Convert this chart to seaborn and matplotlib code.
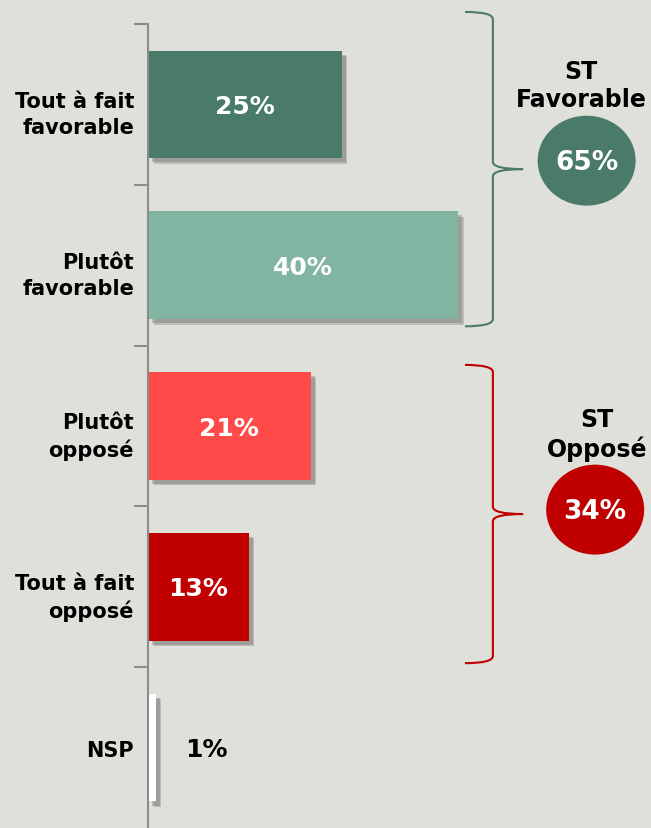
import matplotlib
matplotlib.use("Agg")
import matplotlib.pyplot as plt
import matplotlib.patheffects as pe
import matplotlib.transforms as mtrans
from matplotlib.patches import Ellipse, PathPatch
from matplotlib.path import Path
import seaborn as sns

# data
categories = ["Tout à fait\nfavorable", "Plutôt\nfavorable", "Plutôt\nopposé",
              "Tout à fait\nopposé", "NSP"]
values = [25, 40, 21, 13, 1]
bar_colors = ["#4a7a6a", "#82b4a2", "#ff4a4a", "#c00000", "#ffffff"]
group_names = ["ST\nFavorable", "ST\nOpposé"]
group_members = [[0, 1], [2, 3]]
group_colors = ["#4a7a6a", "#c00000"]

bg = "#e0e0da"
sns.set_style("white")
plt.rcParams["font.family"] = ["DejaVu Sans"]

fig = plt.figure(figsize=(6.51, 8.29), dpi=100, facecolor=bg)
ax = fig.add_axes([148 / 651, 0, 1 - 148 / 651, 804 / 829])
ax.set_facecolor(bg)

sns.barplot(x=values, y=categories, hue=categories, palette=bar_colors,
            legend=False, orient="h", width=0.67, saturation=1, linewidth=0, ax=ax)

# soft drop shadow under each bar
shadow = [pe.SimplePatchShadow(offset=(4, -4), shadow_rgbFace="#777777", alpha=0.35),
          pe.SimplePatchShadow(offset=(3, -3), shadow_rgbFace="#666666", alpha=0.35),
          pe.Normal()]
for p in ax.patches:
    p.set_path_effects(shadow)

ax.set_xlim(0, 503 / 7.75)
ax.set_ylim(4.5, -0.5)
ax.set_xlabel("")
ax.set_ylabel("")
ax.set_xticks([])
for s in ["top", "right", "bottom"]:
    ax.spines[s].set_visible(False)
ax.spines["left"].set_color("#8c8c8c")
ax.spines["left"].set_linewidth(1.5)

ax.set_yticks(range(len(categories)))
ax.set_yticklabels(categories, fontsize=15, fontweight="bold", linespacing=1.35,
                   color="black")
ax.tick_params(axis="y", which="major", length=0, pad=10)
ax.set_yticks([-0.5, 0.5, 1.5, 2.5, 3.5], minor=True)
ax.tick_params(axis="y", which="minor", left=True, length=10, width=1.5,
               color="#8c8c8c")

# two-line labels sit a little below the bar centre in the original
shift = mtrans.ScaledTranslation(0, -5 / 100, fig.dpi_scale_trans)
for lbl in ax.get_yticklabels():
    if "\n" in lbl.get_text():
        lbl.set_transform(lbl.get_transform() + shift)

# value labels
for i, v in enumerate(values):
    if v >= 5:
        ax.text(v / 2, i + 0.01, f"{v}%", color="white", fontsize=18, fontweight="bold",
                ha="center", va="center")
    else:
        ax.text(v + 6.5, i + 0.01, f"{v}%", color="black", fontsize=18,
                fontweight="bold", ha="center", va="center")


def brace(ax, x0, x1, x2, y0, y1, color, d=0.045):
    ym = (y0 + y1) / 2
    verts = [(x0, y0), (x1, y0), (x1, y0 + d),
             (x1, ym - d), (x1, ym), (x2, ym),
             (x1, ym), (x1, ym + d),
             (x1, y1 - d), (x1, y1), (x0, y1)]
    codes = [Path.MOVETO, Path.CURVE3, Path.CURVE3,
             Path.LINETO, Path.CURVE3, Path.CURVE3,
             Path.CURVE3, Path.CURVE3,
             Path.LINETO, Path.CURVE3, Path.CURVE3]
    ax.add_patch(PathPatch(Path(verts, codes), fill=False, edgecolor=color,
                           linewidth=1.5, clip_on=False))


brace_spans = [(-0.575, 1.38), (1.62, 3.475)]
circle_pos = [(56.6, 0.35), (57.7, 2.52)]
title_pos = [(55.9, -0.12), (57.9, 2.05)]
for name, members, col, span, cpos, tpos in zip(group_names, group_members, group_colors,
                                                 brace_spans, circle_pos, title_pos):
    total = sum(values[m] for m in members)
    brace(ax, 40.9, 44.5, 48.4, span[0], span[1], col)
    ax.add_patch(Ellipse(cpos, width=98 / 7.75, height=90 / 161, facecolor=col,
                         edgecolor="none", clip_on=False))
    ax.text(cpos[0], cpos[1] + 0.01, f"{total}%", color="white", fontsize=19,
            fontweight="bold", ha="center", va="center")
    ax.text(tpos[0], tpos[1], name, color="black", fontsize=17, fontweight="bold",
            ha="center", va="center", linespacing=1.25)

fig.savefig("out.png", dpi=100, facecolor=bg)
